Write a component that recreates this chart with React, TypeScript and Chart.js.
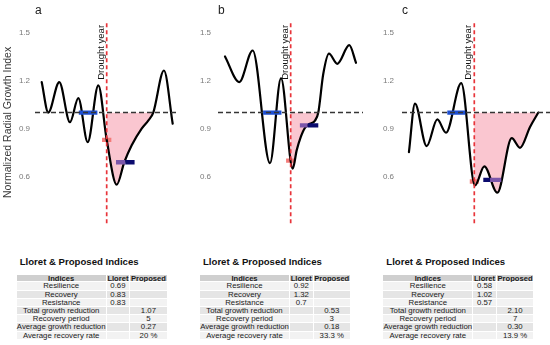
import React, { useEffect, useRef } from "react";
import { Chart, registerables } from "chart.js";

Chart.register(...registerables);

const FONT = "'Liberation Sans', Arial, Helvetica, sans-serif";

// ---------------- data ----------------
const yTicks = [0.6, 0.9, 1.2, 1.5];
const droughtYear = 0;
const panelLetters = ["a", "b", "c"];

// years relative to the drought year, normalized radial growth index
const yearsA = [-6.99, -6.28, -5.1, -3.95, -3.05, -2.04, -0.9, 0, 1.08, 1.89, 2.69, 3.76, 4.47, 5.01, 6.16, 7.1];
const rgiA = [1.19, 1.0, 1.19, 0.94, 1.09, 0.815, 1.17, 0.83, 0.55, 0.69, 0.796, 0.9, 0.95, 1.0, 1.262, 0.93];

const yearsB = [-7.14, -5.59, -4.13, -2.25, -1.05, 0.22, 0.65, 1.09, 1.55, 2.1, 2.64, 3.0, 3.54, 4.16, 5.07, 6.37, 7.1];
const rgiB = [1.35, 1.19, 1.387, 0.684, 1.215, 0.65, 0.764, 0.847, 0.905, 0.93, 0.95, 1.0, 1.24, 1.367, 1.304, 1.42, 1.31];

const yearsC = [-7.26, -6.59, -5.29, -4.11, -3.14, -1.45, 0.08, 1.11, 2.56, 4.16, 5.08, 6.19, 7.11];
const rgiC = [0.753, 1.055, 0.79, 0.957, 0.874, 1.183, 0.545, 0.664, 0.5, 0.84, 0.78, 0.91, 1.0];

const preDroughtMean = [1.0, 1.0, 1.0];
const preDroughtSpan = [-3, -1];
const droughtValue = [0.83, 0.7, 0.57];
const droughtMarkSpan = [-0.5, 0.5];
const postDroughtMean = [0.69, 0.92, 0.58];
const purpleSpans = [[1, 2], [1, 1.85], [1.75, 3]];
const navySpans = [[2, 3], [1.85, 3], [1, 1.75]];
const recoveryPeriod = [5, 3, 7];
const droughtLineRange = [0.31, 1.56];

const indexNames = [
  "Resilience",
  "Recovery",
  "Resistance",
  "Total growth reduction",
  "Recovery period",
  "Average growth reduction",
  "Average recovery rate",
];
const headerNames = ["Indices", "Lloret", "Proposed"];
const lloretA = ["0.69", "0.83", "0.83", "", "", "", ""];
const proposedA = ["", "", "", "1.07", "5", "0.27", "20 %"];
const lloretB = ["0.92", "1.32", "0.7", "", "", "", ""];
const proposedB = ["", "", "", "0.53", "3", "0.18", "33.3 %"];
const lloretC = ["0.58", "1.02", "0.57", "", "", "", ""];
const proposedC = ["", "", "", "2.10", "7", "0.30", "13.9 %"];
const tableTitle = "Lloret & Proposed Indices";

// ---------------- styles ----------------
const PINK = "#fac6d0";
const BLUE = "#1d4fd2";
const PURPLE = "#7c56aa";
const NAVY = "#0b0b6e";
const SALMON = "#f47a78";
const RED = "#e8343a";
const DASH_GREY = "#353535";

type PanelSpec = {
  idx: number;
  years: number[];
  rgi: number[];
  left: number;
  width: number;
  axisWidth: number;
  padRight: number;
  tickPad: number;
  xMin: number;
  xMax: number;
  yTitle: boolean;
};

const panels: PanelSpec[] = [
  { idx: 0, years: yearsA, rgi: rgiA, left: 0, width: 180, axisWidth: 35, padRight: 2, tickPad: 5, xMin: -7.71, xMax: 7.67, yTitle: true },
  { idx: 1, years: yearsB, rgi: rgiB, left: 182, width: 183, axisWidth: 36, padRight: 2, tickPad: 7, xMin: -7.9, xMax: 7.86, yTitle: false },
  { idx: 2, years: yearsC, rgi: rgiC, left: 366, width: 184, axisWidth: 36, padRight: 0, tickPad: 8, xMin: -8.03, xMax: 8.41, yTitle: false },
];

const CANVAS_H = 228;
const CURVE_INDEX = 0;

function seg(xs: number[], y: number) {
  return xs.map((x) => ({ x, y }));
}

function makeConfig(p: PanelSpec): any {
  const i = p.idx;
  const base = { pointRadius: 0, pointHoverRadius: 0, fill: false, borderCapStyle: "butt" };
  const datasets: any[] = [
    {
      ...base,
      label: "curve",
      data: p.years.map((x, k) => ({ x, y: p.rgi[k] })),
      borderColor: "#000",
      borderWidth: 2.2,
      cubicInterpolationMode: "monotone",
      borderCapStyle: "round",
      order: 5,
    },
    {
      ...base,
      label: "drought",
      data: seg(droughtMarkSpan, droughtValue[i]),
      borderColor: SALMON,
      borderWidth: 4.3,
      order: 6,
    },
    {
      ...base,
      label: "pre",
      data: seg(preDroughtSpan, preDroughtMean[i]),
      borderColor: BLUE,
      borderWidth: 4.3,
      order: 4,
    },
    {
      ...base,
      label: "baseline",
      data: seg([p.xMin, p.xMax], preDroughtMean[i]),
      borderColor: DASH_GREY,
      borderWidth: 1.5,
      borderDash: [5, 3],
      order: 3,
    },
    {
      ...base,
      label: "droughtLine",
      data: droughtLineRange.map((y) => ({ x: droughtYear, y })),
      borderColor: RED,
      borderWidth: 1.7,
      borderDash: [4, 3],
      order: 2,
    },
    {
      ...base,
      label: "post1",
      data: seg(purpleSpans[i], postDroughtMean[i]),
      borderColor: PURPLE,
      borderWidth: 4.3,
      order: 1,
    },
    {
      ...base,
      label: "post2",
      data: seg(navySpans[i], postDroughtMean[i]),
      borderColor: NAVY,
      borderWidth: 4.3,
      order: 0,
    },
  ];

  const deficitFill = {
    id: "deficitFill",
    beforeDatasetsDraw(chart: any) {
      const meta = chart.getDatasetMeta(CURVE_INDEX);
      const line: any = meta.dataset;
      if (!line) return;
      const { ctx, chartArea, scales } = chart;
      const xs = scales.x;
      const ys = scales.y;
      if (line.updateControlPoints) line.updateControlPoints(chartArea, "x");
      const yb = ys.getPixelForValue(preDroughtMean[i]);
      const x0 = xs.getPixelForValue(droughtYear);
      const x1 = xs.getPixelForValue(droughtYear + recoveryPeriod[i] + 0.2);
      const pts = meta.data;
      ctx.save();
      ctx.beginPath();
      ctx.rect(x0, yb, x1 - x0, chartArea.bottom - yb);
      ctx.clip();
      ctx.beginPath();
      line.path(ctx);
      ctx.lineTo(pts[pts.length - 1].x, yb);
      ctx.lineTo(pts[0].x, yb);
      ctx.closePath();
      ctx.fillStyle = PINK;
      ctx.fill();
      ctx.restore();
    },
  };

  const droughtLabel = {
    id: "droughtLabel",
    afterDatasetsDraw(chart: any) {
      const { ctx, scales } = chart;
      ctx.save();
      ctx.translate(scales.x.getPixelForValue(droughtYear) - 5.5, scales.y.getPixelForValue(1.375));
      ctx.rotate(-Math.PI / 2);
      ctx.font = `9.5px ${FONT}`;
      ctx.fillStyle = "#111";
      ctx.textAlign = "center";
      ctx.textBaseline = "middle";
      ctx.fillText("Drought year", 0, 0);
      ctx.restore();
    },
  };

  return {
    type: "line",
    data: { datasets },
    plugins: [deficitFill, droughtLabel],
    options: {
      animation: false,
      responsive: false,
      maintainAspectRatio: false,
      events: [],
      layout: { padding: { left: 0, right: p.padRight, top: 0, bottom: 0 } },
      plugins: {
        legend: { display: false },
        tooltip: { enabled: false },
        title: {
          display: true,
          text: panelLetters[i],
          align: "start",
          fullSize: false,
          color: "#222",
          font: { family: FONT, size: 12, weight: "normal", lineHeight: 1 },
          padding: { top: 4.8, bottom: 0 },
        },
      },
      scales: {
        x: { type: "linear", min: p.xMin, max: p.xMax, display: false },
        y: {
          type: "linear",
          min: 0.28,
          max: 1.597,
          afterBuildTicks: (s: any) => {
            s.ticks = yTicks.map((v) => ({ value: v }));
          },
          afterFit: (s: any) => {
            s.width = p.axisWidth;
            s.paddingTop = 0;
            s.paddingBottom = 0;
          },
          grid: { display: false, drawTicks: false },
          border: { display: false },
          ticks: {
            padding: p.tickPad,
            color: "#7a7a7a",
            font: { family: FONT, size: 8 },
            callback: (v: any) => Number(v).toFixed(1),
          },
          title: {
            display: p.yTitle,
            text: "Normalized Radial Growth Index",
            color: "#3a3a3a",
            font: { family: FONT, size: 10.5 },
            padding: { top: 2, bottom: 0 },
          },
        },
      },
    },
  };
}

function Panel({ p }: { p: PanelSpec }) {
  const ref = useRef<HTMLCanvasElement>(null);
  useEffect(() => {
    const chart = new Chart(ref.current as HTMLCanvasElement, makeConfig(p));
    return () => chart.destroy();
  }, []);
  return (
    <canvas
      ref={ref}
      width={p.width}
      height={CANVAS_H}
      style={{ position: "absolute", left: p.left, top: 0, width: p.width, height: CANVAS_H }}
    />
  );
}

const COLS = [90, 23.5, 37.5];
const HEADER_H = 7.2;
const ROW_H = 8.2;

function IndexTable({ left, lloret, proposed }: { left: number; lloret: string[]; proposed: string[] }) {
  const cell = (txt: string, w: number, h: number, bg: string, bold: boolean, key: string) => (
    <div
      key={key}
      style={{
        width: w,
        height: h,
        lineHeight: h + "px",
        background: bg,
        boxSizing: "border-box",
        borderRight: "1px solid #fff",
        borderBottom: "0.6px solid #fff",
        textAlign: "center",
        fontSize: bold ? 7.6 : 7.8,
        fontWeight: bold ? 700 : 400,
        whiteSpace: "nowrap",
        overflow: "visible",
        color: "#1a1a1a",
      }}
    >
      {txt}
    </div>
  );
  return (
    <div style={{ position: "absolute", left: left, top: 255.7, fontFamily: FONT }}>
      <div style={{ marginLeft: 3, fontSize: 9.6, fontWeight: 700, lineHeight: "12px", height: 12, color: "#111", whiteSpace: "nowrap" }}>
        {tableTitle}
      </div>
      <div style={{ height: 7.6 }} />
      <div style={{ display: "flex" }}>
        {headerNames.map((h, k) => cell(h, COLS[k], HEADER_H, "#cfcfcf", true, "h" + k))}
      </div>
      {indexNames.map((name, r) => {
        const bg = r % 2 === 0 ? "#f2f2f2" : "#e5e5e5";
        return (
          <div key={r} style={{ display: "flex" }}>
            {cell(name, COLS[0], ROW_H, bg, false, "a")}
            {cell(lloret[r], COLS[1], ROW_H, bg, false, "b")}
            {cell(proposed[r], COLS[2], ROW_H, bg, false, "c")}
          </div>
        );
      })}
    </div>
  );
}

export default function App() {
  return (
    <div
      style={{
        position: "fixed",
        left: 0,
        top: 0,
        width: 550,
        height: 345,
        background: "#fff",
        overflow: "hidden",
        fontFamily: FONT,
      }}
    >
      {panels.map((p) => (
        <Panel key={p.idx} p={p} />
      ))}
      <IndexTable left={16.7} lloret={lloretA} proposed={proposedA} />
      <IndexTable left={200} lloret={lloretB} proposed={proposedB} />
      <IndexTable left={383.3} lloret={lloretC} proposed={proposedC} />
    </div>
  );
}
